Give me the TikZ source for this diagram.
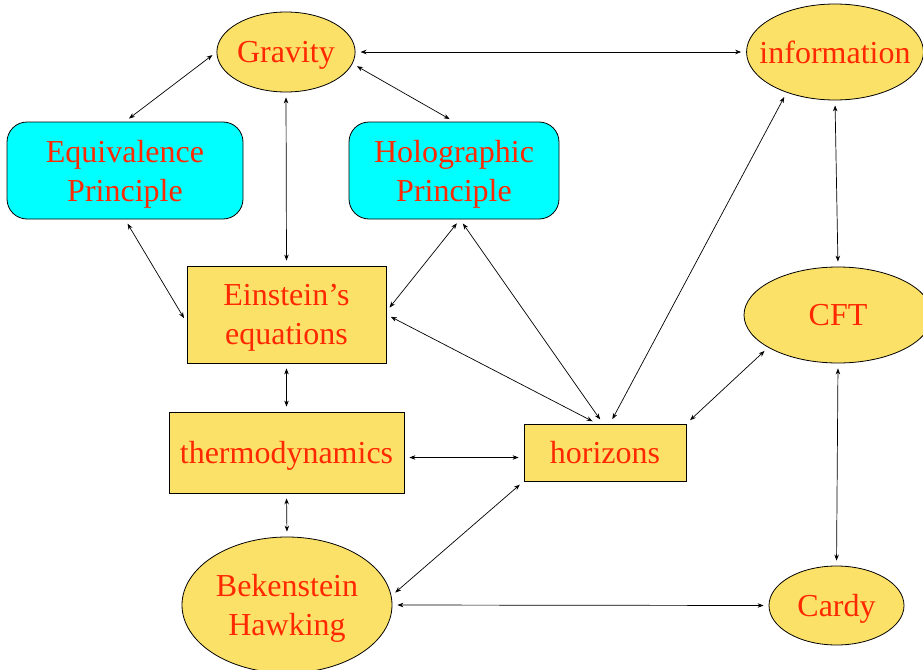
\documentclass[tikz,border=0pt]{standalone}
\usepackage{fontspec}
\setmainfont{Liberation Serif}
\usetikzlibrary{arrows.meta,shapes.geometric}
\definecolor{nodeyellow}{RGB}{252,225,104}
\definecolor{nodecyan}{RGB}{0,255,255}
\definecolor{txtred}{RGB}{255,40,0}

\begin{document}
\begin{tikzpicture}[x=1pt, y=-1pt,
  every node/.style={font=\fontsize{32}{39}\selectfont, text=txtred, align=center, inner sep=0pt, text depth=0pt, draw, line width=0.8pt},
  ell/.style={ellipse, fill=nodeyellow},
  box/.style={rectangle, fill=nodeyellow},
  rbox/.style={rectangle, rounded corners=20pt, fill=nodecyan},
  arr/.style={{Stealth[length=6pt,width=4.5pt]}-{Stealth[length=6pt,width=4.5pt]}, line width=0.7pt, shorten <=5pt, shorten >=5pt}]
\clip (0,0) rectangle (923,669);
% top row
\node[ell, minimum width=136pt, minimum height=80pt] (grav) at (286,52) {Gravity};
\node[ell, inner xsep=-13pt, minimum width=174pt, minimum height=96pt] (info) at (835,52) {information};
\node[rbox, minimum width=236pt, minimum height=97pt] (equiv) at (125,170.5) {Equivalence\\Principle};
\node[rbox, minimum width=210pt, minimum height=97pt] (holo) at (454,170.5) {Holographic\\Principle};
% middle
\node[box, minimum width=199pt, minimum height=97pt] (einst) at (286.5,314.5) {Einstein’s\\equations};
\node[ell, minimum width=188pt, minimum height=96pt] (cft) at (838,315) {CFT};
\node[box, minimum width=235pt, minimum height=81pt] (thermo) at (286.5,452.5) {thermodynamics};
\node[box, minimum width=162pt, minimum height=57pt] (hor) at (605,452.5) {horizons};
% bottom row
\node[ell, minimum width=210pt, minimum height=136pt] (bek) at (287,605) {Bekenstein\\Hawking};
\node[ell, minimum width=135pt, minimum height=79pt] (cardy) at (836.5,605.5) {Cardy};
% connectors
\draw[arr] (grav.west) -- (equiv.north);
\draw[arr] (grav.east) -- (info.west);
\draw[arr] (grav.-10) -- (holo.north);
\draw[arr] (grav.south) -- (einst.north);
\draw[arr] (equiv.south) -- ([yshift=-8pt]einst.west);
\draw[arr] ([xshift=6pt]holo.south) -- ([yshift=3pt]einst.east);
\draw[arr] ([xshift=6pt]holo.south) -- ([xshift=-2pt]hor.north);
\draw[arr] (einst.east) -- ([xshift=-8pt]hor.north);
\draw[arr] (info.220) -- ([xshift=5pt]hor.north);
\draw[arr] (info.south) -- (cft.north);
\draw[arr] (cft.205) -- (hor.north east);
\draw[arr] (einst.south) -- (thermo.north);
\draw[arr] ([yshift=-5pt]thermo.east) -- ([yshift=-5pt]hor.west);
\draw[arr] (thermo.south) -- (bek.north);
\draw[arr] (hor.south west) -- (bek.5);
\draw[arr] (bek.east) -- (cardy.west);
\draw[arr] (cft.south) -- (cardy.north);
\end{tikzpicture}
\end{document}
